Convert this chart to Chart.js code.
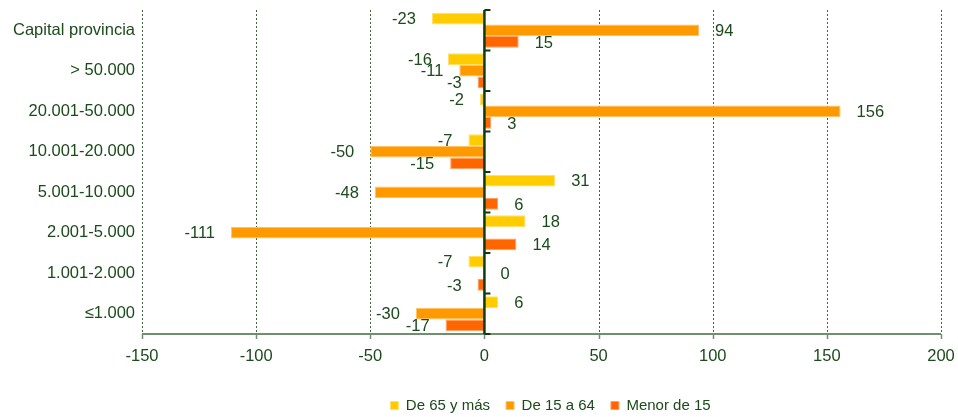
<!DOCTYPE html>
<html>
<head>
<meta charset="utf-8">
<script src="https://cdn.jsdelivr.net/npm/chart.js@4/dist/chart.umd.min.js"></script>
<style>
html,body{margin:0;padding:0;background:#fff;}
#wrap{width:958px;height:417px;position:relative;}
</style>
</head>
<body>
<div id="wrap"><canvas id="c" width="958" height="417"></canvas></div>
<script>
const categories = ["Capital provincia", "> 50.000", "20.001-50.000", "10.001-20.000", "5.001-10.000", "2.001-5.000", "1.001-2.000", "≤1.000"];
const seriesNames = ["De 65 y más", "De 15 a 64", "Menor de 15"];
const de65 = [-23, -16, -2, -7, 31, 18, -7, 6];
const de15a64 = [94, -11, 156, -50, -48, -111, 0, -30];
const menor15 = [15, -3, 3, -15, 6, 14, -3, -17];
const xMin = -150, xMax = 200, xStep = 50;

const TEXT = '#1B4A1B';
const FONT = '"Liberation Sans", Arial, sans-serif';

const gridPlugin = {
  id: 'gridPlugin',
  afterLayout(chart) {
    const lg = chart.legend;
    if (lg) {
      const a = chart.chartArea;
      lg.left = a.left + 9;
      lg.right = a.right + 9;
      lg.top += 6;
      lg.bottom += 6;
    }
  },
  beforeDatasetsDraw(chart) {
    const {ctx, chartArea: a, scales: {x}} = chart;
    ctx.save();
    ctx.strokeStyle = '#3F663F';
    ctx.lineWidth = 1;
    ctx.setLineDash([2, 2]);
    for (let v = xMin; v <= xMax; v += xStep) {
      if (v === 0) continue;
      const px = Math.round(x.getPixelForValue(v)) + 0.5;
      ctx.beginPath();
      ctx.moveTo(px, a.top);
      ctx.lineTo(px, a.bottom);
      ctx.stroke();
    }
    ctx.setLineDash([]);
    ctx.strokeStyle = '#6F8F6F';
    ctx.lineWidth = 2;
    ctx.beginPath();
    ctx.moveTo(a.left, a.bottom);
    ctx.lineTo(a.right, a.bottom);
    ctx.stroke();
    ctx.lineWidth = 1.5;
    for (let v = xMin; v <= xMax; v += xStep) {
      const px = Math.round(x.getPixelForValue(v)) + 0.5;
      ctx.beginPath();
      ctx.moveTo(px, a.bottom);
      ctx.lineTo(px, a.bottom + 5);
      ctx.stroke();
    }
    ctx.restore();
  },
  afterDatasetsDraw(chart) {
    const {ctx, chartArea: a, scales: {x}} = chart;
    const x0 = x.getPixelForValue(0);
    ctx.save();
    ctx.strokeStyle = '#0E3A0E';
    ctx.lineWidth = 2.5;
    ctx.beginPath();
    ctx.moveTo(x0, a.top);
    ctx.lineTo(x0, a.bottom);
    ctx.stroke();
    const n = categories.length;
    ctx.lineWidth = 2;
    for (let i = 0; i <= n; i++) {
      const y = a.top + i * (a.bottom - a.top) / n;
      ctx.beginPath();
      ctx.moveTo(x0, y);
      ctx.lineTo(x0 + 6, y);
      ctx.stroke();
    }
    ctx.fillStyle = TEXT;
    ctx.font = '16.5px ' + FONT;
    ctx.textBaseline = 'middle';
    chart.data.datasets.forEach((ds, di) => {
      const meta = chart.getDatasetMeta(di);
      meta.data.forEach((el, i) => {
        const v = ds.data[i];
        if (v >= 0) {
          ctx.textAlign = 'left';
          ctx.fillText(String(v), el.x + 16, el.y + 1);
        } else {
          ctx.textAlign = 'right';
          ctx.fillText(String(v), el.x - 16, el.y + 1);
        }
      });
    });
    ctx.restore();
  }
};

new Chart(document.getElementById('c'), {
  type: 'bar',
  data: {
    labels: categories,
    datasets: [
      {label: seriesNames[0], data: de65, backgroundColor: '#FFCC00', borderColor: '#FFE066'},
      {label: seriesNames[1], data: de15a64, backgroundColor: '#FF9900', borderColor: '#FFC266'},
      {label: seriesNames[2], data: menor15, backgroundColor: '#FF6600', borderColor: '#FF9F66'}
    ]
  },
  options: {
    indexAxis: 'y',
    responsive: false,
    animation: false,
    datasets: {
      bar: {
        barPercentage: 1,
        categoryPercentage: 0.87,
        borderWidth: 1
      }
    },
    layout: {padding: {top: 10, right: 17, left: 0, bottom: 0}},
    plugins: {
      legend: {
        position: 'bottom',
        labels: {
          color: TEXT,
          font: {family: FONT, size: 15},
          boxWidth: 8,
          boxHeight: 8,
          padding: 16
        }
      },
      tooltip: {enabled: false}
    },
    scales: {
      x: {
        type: 'linear',
        min: xMin,
        max: xMax,
        grid: {display: false, drawTicks: false},
        border: {display: false},
        ticks: {stepSize: xStep, color: TEXT, font: {family: FONT, size: 16.5}, padding: 13},
        afterFit(s) { s.height = 42; s.paddingLeft = 0; s.paddingRight = 0; }
      },
      y: {
        grid: {display: false, drawTicks: false},
        border: {display: false},
        ticks: {color: TEXT, font: {family: FONT, size: 16.5}, padding: 7},
        afterFit(s) { s.width = 142; s.paddingTop = 0; s.paddingBottom = 0; }
      }
    }
  },
  plugins: [gridPlugin]
});
</script>
</body>
</html>
